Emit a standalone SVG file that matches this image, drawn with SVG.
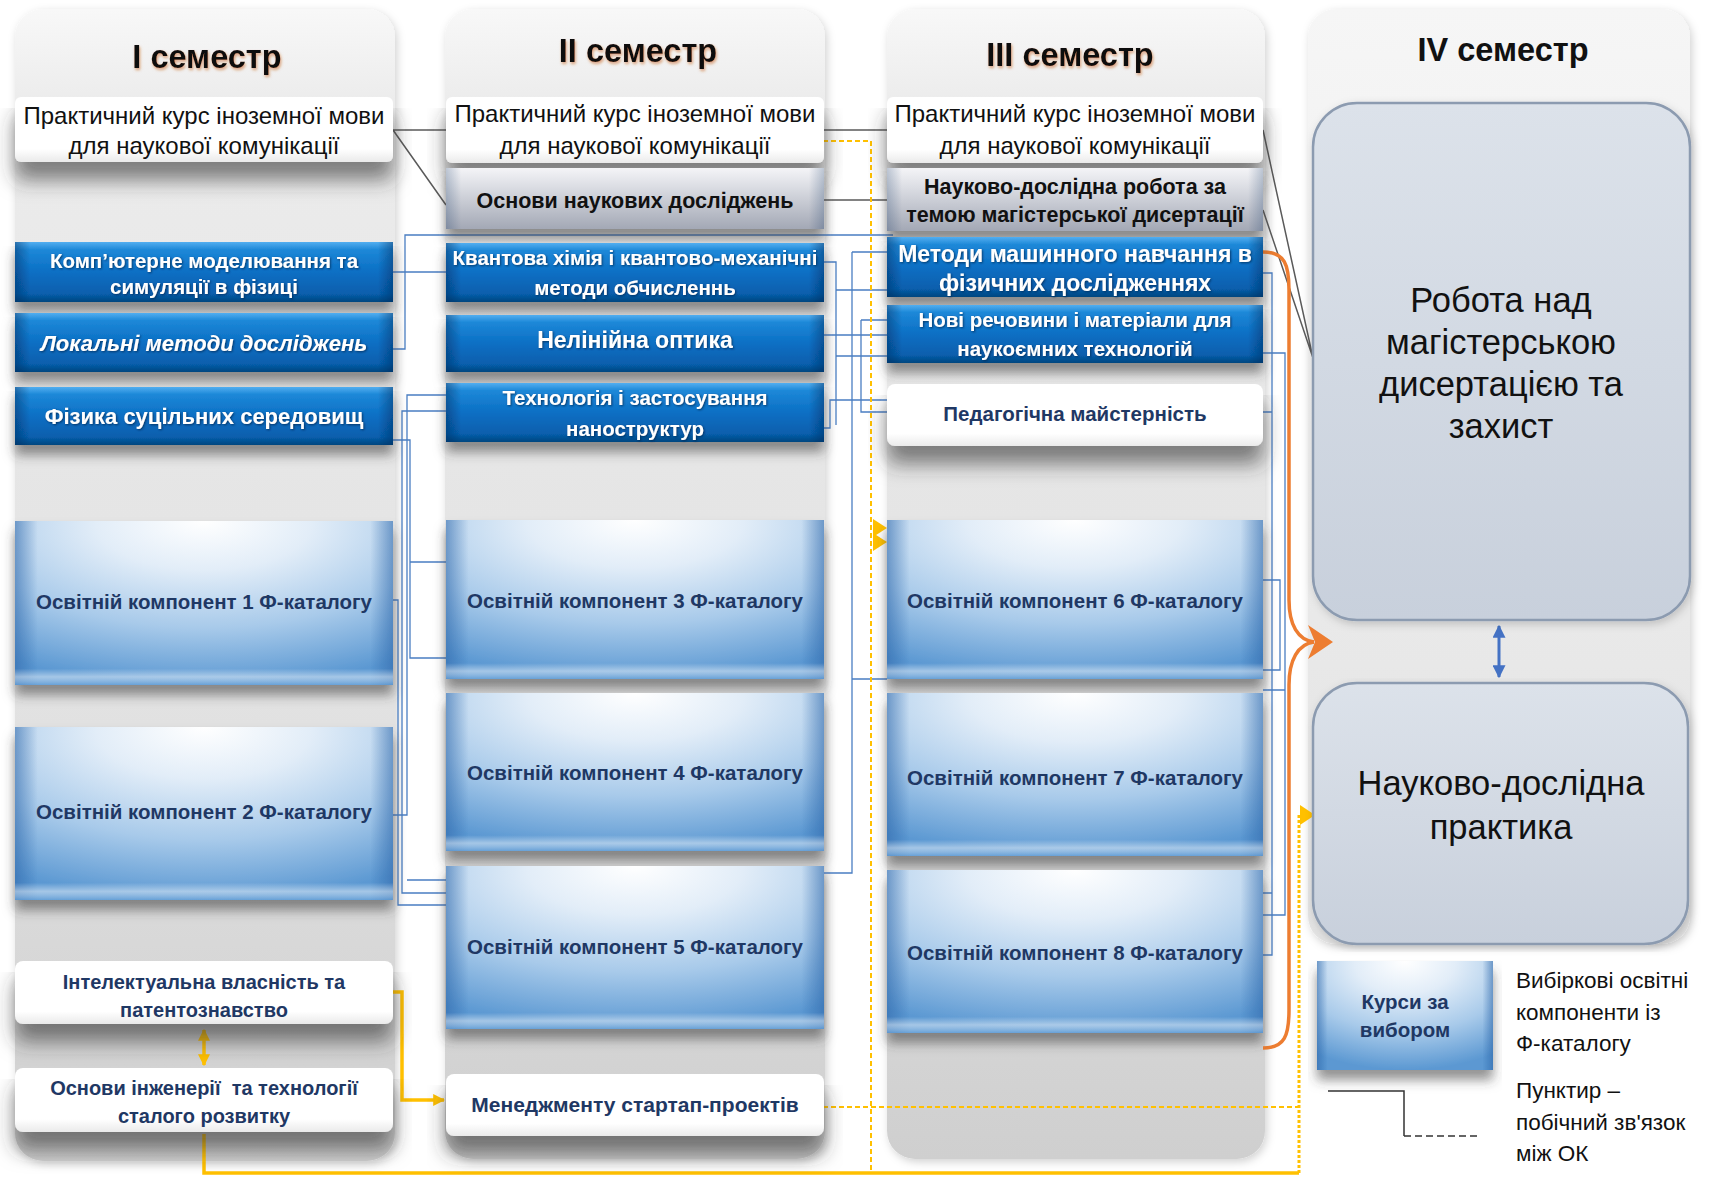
<svg xmlns="http://www.w3.org/2000/svg" width="1726" height="1177" viewBox="0 0 1726 1177">
<defs>
<style>
text{font-family:"Liberation Sans",Arial,sans-serif;text-anchor:middle}
.title{font-size:32.5px;font-weight:bold;fill:#111}
.prak{font-size:24px;fill:#111}
.bt{font-size:20.5px;font-weight:bold;fill:#fff}
.ok{font-size:20.5px;font-weight:bold;fill:#1F3864}
.gt{font-size:21.5px;font-weight:bold;fill:#111}
.nv{font-size:20px;font-weight:bold;fill:#1F3864}
.big{font-size:34.5px;fill:#111}
.leg{font-size:22.5px;fill:#111;text-anchor:start}
.bl{fill:none;stroke:#4A7EC2;stroke-width:1.3}
.gr{fill:none;stroke:#5A5A5A;stroke-width:1.5}
.yl{fill:none;stroke:#FFC000;stroke-width:3.5}
.yd{fill:none;stroke:#FFC000;stroke-width:2;stroke-dasharray:5 3}
.or{fill:none;stroke:#ED7D31;stroke-width:3.5}
</style>
<linearGradient id="gPanel" x1="0" y1="0" x2="0" y2="1">
<stop offset="0" stop-color="#F8F8F8"/><stop offset="0.08" stop-color="#ECECEC"/><stop offset="0.6" stop-color="#E2E2E2"/><stop offset="1" stop-color="#CFCFCF"/>
</linearGradient>
<linearGradient id="gPanel4" x1="0" y1="0" x2="0" y2="1">
<stop offset="0" stop-color="#F6F6F6"/><stop offset="1" stop-color="#E2E2E2"/>
</linearGradient>
<linearGradient id="gBlue" x1="0" y1="0" x2="0" y2="1">
<stop offset="0" stop-color="#52AEF0"/><stop offset="0.13" stop-color="#1D88D8"/><stop offset="0.5" stop-color="#0B6FC4"/><stop offset="0.86" stop-color="#075FAD"/><stop offset="1" stop-color="#04467F"/>
</linearGradient>
<linearGradient id="gEdge" x1="0" y1="0" x2="1" y2="0">
<stop offset="0" stop-color="#00285A" stop-opacity="0.45"/><stop offset="0.04" stop-color="#00285A" stop-opacity="0"/><stop offset="0.96" stop-color="#00285A" stop-opacity="0"/><stop offset="1" stop-color="#00285A" stop-opacity="0.45"/>
</linearGradient>
<radialGradient id="gOk" cx="0.5" cy="0.05" r="0.95" fx="0.5" fy="0">
<stop offset="0" stop-color="#FFFFFF"/><stop offset="0.3" stop-color="#E2EDF8"/><stop offset="0.65" stop-color="#A8CAEA"/><stop offset="1" stop-color="#5B98D2"/>
</radialGradient>
<linearGradient id="gOkEdge" x1="0" y1="0" x2="1" y2="0">
<stop offset="0" stop-color="#2A64A8" stop-opacity="0.55"/><stop offset="0.06" stop-color="#2A64A8" stop-opacity="0"/><stop offset="0.94" stop-color="#2A64A8" stop-opacity="0"/><stop offset="1" stop-color="#2A64A8" stop-opacity="0.55"/>
</linearGradient>
<linearGradient id="gOkBot" x1="0" y1="0" x2="0" y2="1">
<stop offset="0" stop-color="#FFFFFF" stop-opacity="0"/><stop offset="0.9" stop-color="#FFFFFF" stop-opacity="0"/><stop offset="0.95" stop-color="#FFFFFF" stop-opacity="0.45"/><stop offset="1" stop-color="#6FA6DA" stop-opacity="0.6"/>
</linearGradient>
<linearGradient id="gGrey" x1="0" y1="0" x2="0" y2="1">
<stop offset="0" stop-color="#F4F4F7"/><stop offset="0.3" stop-color="#DCDEE4"/><stop offset="1" stop-color="#A3A8B5"/>
</linearGradient>
<linearGradient id="gWhite" x1="0" y1="0" x2="0" y2="1">
<stop offset="0" stop-color="#FFFFFF"/><stop offset="0.8" stop-color="#FFFFFF"/><stop offset="1" stop-color="#EAEAEA"/>
</linearGradient>
<linearGradient id="gBig" x1="0" y1="0" x2="0" y2="1">
<stop offset="0" stop-color="#DCE2EA"/><stop offset="1" stop-color="#C8D0DC"/>
</linearGradient>
<filter id="sh" x="-5%" y="-10%" width="110%" height="170%">
<feGaussianBlur in="SourceAlpha" stdDeviation="6"/>
<feOffset dy="10" result="b"/>
<feFlood flood-color="#3A3A3A" flood-opacity="0.55"/>
<feComposite in2="b" operator="in"/>
<feMerge><feMergeNode/><feMergeNode in="SourceGraphic"/></feMerge>
</filter>
<filter id="shw" x="-5%" y="-10%" width="110%" height="200%">
<feGaussianBlur in="SourceAlpha" stdDeviation="10"/>
<feOffset dy="18" result="b"/>
<feFlood flood-color="#333" flood-opacity="0.6"/>
<feComposite in2="b" operator="in"/>
<feMerge><feMergeNode/><feMergeNode in="SourceGraphic"/></feMerge>
</filter>
<filter id="psh" x="-5%" y="-3%" width="110%" height="106%">
<feGaussianBlur in="SourceAlpha" stdDeviation="4"/>
<feOffset dx="2" dy="3" result="b"/>
<feFlood flood-color="#000" flood-opacity="0.18"/>
<feComposite in2="b" operator="in"/>
<feMerge><feMergeNode/><feMergeNode in="SourceGraphic"/></feMerge>
</filter>
<filter id="tglow" x="-10%" y="-30%" width="120%" height="160%">
<feDropShadow dx="1" dy="2" stdDeviation="1.5" flood-color="#C55A11" flood-opacity="0.55"/>
</filter>
<filter id="tsh" x="-5%" y="-30%" width="110%" height="160%">
<feDropShadow dx="1" dy="1" stdDeviation="0.8" flood-color="#002850" flood-opacity="0.8"/>
</filter>
<marker id="mGold" viewBox="0 0 10 10" refX="9" refY="5" markerWidth="12" markerHeight="12" markerUnits="userSpaceOnUse" orient="auto-start-reverse">
<path d="M0,0 L10,5 L0,10 Z" fill="#FFC000"/>
</marker>
<marker id="mBlue" viewBox="0 0 10 10" refX="9" refY="5" markerWidth="13" markerHeight="13" markerUnits="userSpaceOnUse" orient="auto-start-reverse">
<path d="M0,0 L10,5 L0,10 Z" fill="#4472C4"/>
</marker>
</defs>

<rect width="1726" height="1177" fill="#FFFFFF"/>

<g id="panels">
<g id="col1"><rect x="15" y="9" width="380" height="1152" rx="28" fill="url(#gPanel)" filter="url(#psh)"/><text class="title" x="207" y="68" filter="url(#tglow)">I семестр</text></g>
<g id="col2"><rect x="445" y="9" width="380" height="1150" rx="28" fill="url(#gPanel)" filter="url(#psh)"/><text class="title" x="638" y="62" filter="url(#tglow)">II семестр</text></g>
<g id="col3"><rect x="887" y="9" width="378" height="1150" rx="28" fill="url(#gPanel)" filter="url(#psh)"/><text class="title" x="1070" y="66" filter="url(#tglow)">III семестр</text></g>
<g id="col4"><rect x="1308" y="9" width="382" height="935" rx="28" fill="url(#gPanel4)" filter="url(#psh)"/><text class="title" x="1503" y="61">IV семестр</text></g>
</g>

<g id="connectors">
<path class="bl" d="M393,272 H446 M393,349 H405 V235 H893 M393,440 H410 V658 H446 M410,562 H446 M393,815 H407 V395 H446 M407,880 H446 M446,411 H402 V893 H446 M393,600 H398 V905 H446"/>
<path class="bl" d="M823,262 H836 V425 M836,290 H887 M836,356 H887 M823,335 H887 M823,428 H830 V400 H887 M852,252 V873 H823 M852,252 H887 M852,679 H887 M861,320 V412 H887 M861,320 H887"/>
<path class="bl" d="M1263,273 H1272 V893 H1263 M1263,412 H1272 M1263,353 H1285 V915 H1263 M1263,580 H1280 V670 H1263 M1263,690 H1285 M1263,955 H1272 V893"/>
<path class="gr" d="M393,130 H446 M393,130 L446,205 M823,130 H887 M823,200 H887 M1263,130 L1313,358 M1263,210 L1313,358"/>
<path class="yd" d="M823,141 H871 V1173 M823,1107 H1299"/>
<polygon points="873,519 887,528 873,537" fill="#FFC000"/>
<polygon points="873,533 887,542 873,551" fill="#FFC000"/>
<path class="yl" d="M204,1134 V1173 H1299"/>
<path fill="none" stroke="#FFC000" stroke-width="3" stroke-dasharray="3 2" d="M1299,1173 V815 H1302"/>
<polygon points="1300,805 1315,815 1300,825" fill="#FFC000"/>
<path class="yl" d="M393,992 H402 V1100 H444" marker-end="url(#mGold)"/>
<path class="yl" d="M204,1030 V1065" marker-start="url(#mGold)" marker-end="url(#mGold)"/>
<path class="or" d="M1263,252 C1285,252 1289,265 1289,290 V600 C1289,625 1298,640 1314,642"/>
<path class="or" d="M1263,1048 C1285,1048 1289,1035 1289,1010 V685 C1289,660 1298,644 1314,642"/>
<polygon points="1308,625 1333,642 1308,659 1315,642" fill="#ED7D31"/>
<path fill="none" stroke="#4472C4" stroke-width="3" d="M1499,626 V677" marker-start="url(#mBlue)" marker-end="url(#mBlue)"/>
</g>

<!-- column 1 -->
<g id="n1-prak"><rect x="15" y="97" width="378" height="65" rx="6" fill="url(#gWhite)" filter="url(#shw)"/>
<text class="prak" x="204" y="124">Практичний курс іноземної мови</text><text class="prak" x="204" y="154">для наукової комунікації</text></g>
<g id="n1-comp"><g filter="url(#sh)"><rect x="15" y="242" width="378" height="60" fill="url(#gBlue)"/><rect x="15" y="242" width="378" height="60" fill="url(#gEdge)"/></g>
<text class="bt" x="204" y="268" filter="url(#tsh)">Комп’ютерне моделювання та</text><text class="bt" x="204" y="294" filter="url(#tsh)">симуляції в фізиці</text></g>
<g id="n1-lok"><g filter="url(#sh)"><rect x="15" y="313" width="378" height="59" fill="url(#gBlue)"/><rect x="15" y="313" width="378" height="59" fill="url(#gEdge)"/></g>
<text class="bt" x="204" y="351" style="font-size:22px;font-style:italic" filter="url(#tsh)">Локальні методи досліджень</text></g>
<g id="n1-fiz"><g filter="url(#sh)"><rect x="15" y="387" width="378" height="58" fill="url(#gBlue)"/><rect x="15" y="387" width="378" height="58" fill="url(#gEdge)"/></g>
<text class="bt" x="204" y="424" style="font-size:22px" filter="url(#tsh)">Фізика суцільних середовищ</text></g>
<g id="n1-ok1"><g filter="url(#sh)"><rect x="15" y="521" width="378" height="164" fill="url(#gOk)"/><rect x="15" y="521" width="378" height="164" fill="url(#gOkEdge)"/><rect x="15" y="521" width="378" height="164" fill="url(#gOkBot)"/></g>
<text class="ok" x="204" y="609">Освітній компонент 1 Ф-каталогу</text></g>
<g id="n1-ok2"><g filter="url(#sh)"><rect x="15" y="727" width="378" height="173" fill="url(#gOk)"/><rect x="15" y="727" width="378" height="173" fill="url(#gOkEdge)"/><rect x="15" y="727" width="378" height="173" fill="url(#gOkBot)"/></g>
<text class="ok" x="204" y="819">Освітній компонент 2 Ф-каталогу</text></g>
<g id="n1-int"><rect x="15" y="961" width="378" height="63" rx="8" fill="url(#gWhite)" filter="url(#shw)"/>
<text class="nv" x="204" y="989">Інтелектуальна власність та</text><text class="nv" x="204" y="1017">патентознавство</text></g>
<g id="n1-osn"><rect x="15" y="1068" width="378" height="64" rx="8" fill="url(#gWhite)" filter="url(#shw)"/>
<text class="nv" x="204" y="1095" xml:space="preserve">Основи інженерії  та технології</text><text class="nv" x="204" y="1123">сталого розвитку</text></g>

<!-- column 2 -->
<g id="n2-prak"><rect x="446" y="97" width="378" height="66" rx="6" fill="url(#gWhite)" filter="url(#shw)"/>
<text class="prak" x="635" y="122">Практичний курс іноземної мови</text><text class="prak" x="635" y="154">для наукової комунікації</text></g>
<g id="n2-osnovy"><g filter="url(#sh)"><rect x="446" y="168" width="378" height="61" fill="url(#gGrey)"/><rect x="446" y="168" width="378" height="61" fill="url(#gEdge)" opacity="0.5"/></g>
<text class="gt" x="635" y="208">Основи наукових досліджень</text></g>
<g id="n2-kvant"><g filter="url(#sh)"><rect x="446" y="243" width="378" height="59" fill="url(#gBlue)"/><rect x="446" y="243" width="378" height="59" fill="url(#gEdge)"/></g>
<text class="bt" x="635" y="265" filter="url(#tsh)">Квантова хімія і квантово-механічні</text><text class="bt" x="635" y="295" filter="url(#tsh)">методи обчисленнь</text></g>
<g id="n2-nelin"><g filter="url(#sh)"><rect x="446" y="315" width="378" height="57" fill="url(#gBlue)"/><rect x="446" y="315" width="378" height="57" fill="url(#gEdge)"/></g>
<text class="bt" x="635" y="348" style="font-size:23px" filter="url(#tsh)">Нелінійна оптика</text></g>
<g id="n2-tech"><g filter="url(#sh)"><rect x="446" y="383" width="378" height="59" fill="url(#gBlue)"/><rect x="446" y="383" width="378" height="59" fill="url(#gEdge)"/></g>
<text class="bt" x="635" y="405" filter="url(#tsh)">Технологія і застосування</text><text class="bt" x="635" y="436" filter="url(#tsh)">наноструктур</text></g>
<g id="n2-ok3"><g filter="url(#sh)"><rect x="446" y="520" width="378" height="159" fill="url(#gOk)"/><rect x="446" y="520" width="378" height="159" fill="url(#gOkEdge)"/><rect x="446" y="520" width="378" height="159" fill="url(#gOkBot)"/></g>
<text class="ok" x="635" y="608">Освітній компонент 3 Ф-каталогу</text></g>
<g id="n2-ok4"><g filter="url(#sh)"><rect x="446" y="693" width="378" height="158" fill="url(#gOk)"/><rect x="446" y="693" width="378" height="158" fill="url(#gOkEdge)"/><rect x="446" y="693" width="378" height="158" fill="url(#gOkBot)"/></g>
<text class="ok" x="635" y="780">Освітній компонент 4 Ф-каталогу</text></g>
<g id="n2-ok5"><g filter="url(#sh)"><rect x="446" y="866" width="378" height="163" fill="url(#gOk)"/><rect x="446" y="866" width="378" height="163" fill="url(#gOkEdge)"/><rect x="446" y="866" width="378" height="163" fill="url(#gOkBot)"/></g>
<text class="ok" x="635" y="954">Освітній компонент 5 Ф-каталогу</text></g>
<g id="n2-men"><rect x="446" y="1074" width="378" height="62" rx="8" fill="url(#gWhite)" filter="url(#shw)"/>
<text class="nv" x="635" y="1112" style="font-size:21px">Менеджменту стартап-проектів</text></g>

<!-- column 3 -->
<g id="n3-prak"><rect x="887" y="97" width="376" height="66" rx="6" fill="url(#gWhite)" filter="url(#shw)"/>
<text class="prak" x="1075" y="122">Практичний курс іноземної мови</text><text class="prak" x="1075" y="154">для наукової комунікації</text></g>
<g id="n3-nauk"><g filter="url(#sh)"><rect x="887" y="168" width="376" height="63" fill="url(#gGrey)"/><rect x="887" y="168" width="376" height="63" fill="url(#gEdge)" opacity="0.5"/></g>
<text class="gt" x="1075" y="194">Науково-дослідна робота за</text><text class="gt" x="1075" y="222">темою магістерської дисертації</text></g>
<g id="n3-met"><g filter="url(#sh)"><rect x="887" y="237" width="376" height="60" fill="url(#gBlue)"/><rect x="887" y="237" width="376" height="60" fill="url(#gEdge)"/></g>
<text class="bt" x="1075" y="262" style="font-size:23px" filter="url(#tsh)">Методи машинного навчання в</text><text class="bt" x="1075" y="291" style="font-size:23px" filter="url(#tsh)">фізичних дослідженнях</text></g>
<g id="n3-novi"><g filter="url(#sh)"><rect x="887" y="305" width="376" height="58" fill="url(#gBlue)"/><rect x="887" y="305" width="376" height="58" fill="url(#gEdge)"/></g>
<text class="bt" x="1075" y="327" filter="url(#tsh)">Нові речовини і матеріали для</text><text class="bt" x="1075" y="356" filter="url(#tsh)">наукоємних технологій</text></g>
<g id="n3-ped"><rect x="887" y="384" width="376" height="62" rx="8" fill="url(#gWhite)" filter="url(#shw)"/>
<text class="nv" x="1075" y="421" style="font-size:20.5px">Педагогічна майстерність</text></g>
<g id="n3-ok6"><g filter="url(#sh)"><rect x="887" y="520" width="376" height="159" fill="url(#gOk)"/><rect x="887" y="520" width="376" height="159" fill="url(#gOkEdge)"/><rect x="887" y="520" width="376" height="159" fill="url(#gOkBot)"/></g>
<text class="ok" x="1075" y="608">Освітній компонент 6 Ф-каталогу</text></g>
<g id="n3-ok7"><g filter="url(#sh)"><rect x="887" y="693" width="376" height="163" fill="url(#gOk)"/><rect x="887" y="693" width="376" height="163" fill="url(#gOkEdge)"/><rect x="887" y="693" width="376" height="163" fill="url(#gOkBot)"/></g>
<text class="ok" x="1075" y="785">Освітній компонент 7 Ф-каталогу</text></g>
<g id="n3-ok8"><g filter="url(#sh)"><rect x="887" y="870" width="376" height="163" fill="url(#gOk)"/><rect x="887" y="870" width="376" height="163" fill="url(#gOkEdge)"/><rect x="887" y="870" width="376" height="163" fill="url(#gOkBot)"/></g>
<text class="ok" x="1075" y="960">Освітній компонент 8 Ф-каталогу</text></g>

<!-- column 4 -->
<g id="n4-rob"><rect x="1313" y="103" width="377" height="517" rx="44" fill="url(#gBig)" stroke="#8C9BB0" stroke-width="2.5" filter="url(#psh)"/>
<text class="big" x="1501" y="312">Робота над</text><text class="big" x="1501" y="354">магістерською</text><text class="big" x="1501" y="396">дисертацією та</text><text class="big" x="1501" y="438">захист</text></g>
<g id="n4-prak"><rect x="1313" y="683" width="375" height="261" rx="44" fill="url(#gBig)" stroke="#8C9BB0" stroke-width="2.5" filter="url(#psh)"/>
<text class="big" x="1501" y="795">Науково-дослідна</text><text class="big" x="1501" y="839">практика</text></g>

<!-- legend -->
<g id="legend-box"><g filter="url(#sh)"><rect x="1317" y="961" width="176" height="109" fill="url(#gOk)"/><rect x="1317" y="961" width="176" height="109" fill="url(#gOkEdge)"/></g>
<text class="ok" x="1405" y="1009">Курси за</text><text class="ok" x="1405" y="1037">вибором</text></g>
<g id="legend-text1"><text class="leg" x="1516" y="988">Вибіркові освітні</text><text class="leg" x="1516" y="1020">компоненти із</text><text class="leg" x="1516" y="1051">Ф-каталогу</text></g>
<g id="legend-line"><path fill="none" stroke="#333" stroke-width="1.5" d="M1328,1091 H1404 V1136"/><path fill="none" stroke="#333" stroke-width="1.5" stroke-dasharray="7 4" d="M1404,1136 H1478"/></g>
<g id="legend-text2"><text class="leg" x="1516" y="1098">Пунктир –</text><text class="leg" x="1516" y="1130">побічний зв'язок</text><text class="leg" x="1516" y="1161">між ОК</text></g>
</svg>
